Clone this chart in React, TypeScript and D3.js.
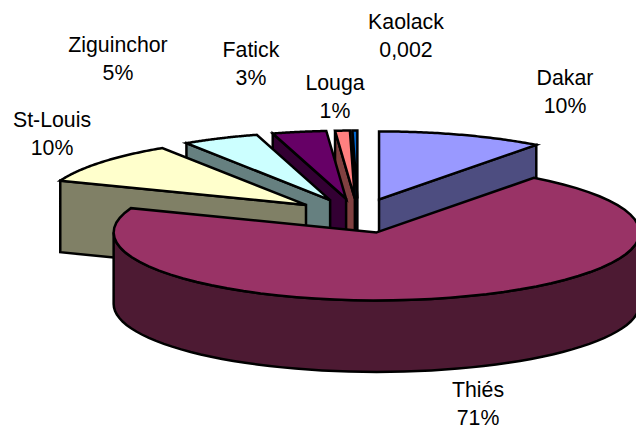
import React from "react";
import * as d3 from "d3";

const categories = ["Dakar", "Thiés", "St-Louis", "Ziguinchor", "Fatick", "Louga", "Kaolack"];
const shares = [10.2, 70.6, 10, 4.7, 3.3, 0.9, 0.3];
const shareLabels = ["10%", "71%", "10%", "5%", "3%", "1%", "0,002"];
const topColors = ["#9999ff", "#993366", "#ffffcc", "#ccffff", "#660066", "#ff8080", "#0066cc"];
const wallColors = ["#4d4d80", "#4d1a33", "#808066", "#668080", "#330033", "#804040", "#003366"];
const labelX = [565, 478, 52, 118, 251, 335, 406];
const labelY = [85, 397, 127, 52, 57, 90, 29];
const paintOrder = [0, 6, 5, 4, 3, 2, 1];

const width = 636,
	height = 432,
	cx = 358,
	cy = 215.8,
	rx = 263,
	ry = 68,
	explode = 0.254,
	depth = 71.5,
	lineGap = 28;

const px = d3.scaleLinear().domain([-1, 1]).range([cx - rx, cx + rx]);
const py = d3.scaleLinear().domain([-1, 1]).range([cy - ry, cy + ry]);

const pie = d3
	.pie<number>()
	.sort(null)
	.value((d) => d);

const line = d3.line();

const App = () => {
	const arcs = pie(shares);

	const slices = paintOrder.map((i) => {
		const a = arcs[i];
		const mid = (a.startAngle + a.endAngle) / 2;
		const ox = explode * Math.sin(mid);
		const oy = -explode * Math.cos(mid);
		const point = (t: number, r: number, drop = 0): [number, number] => [
			px(ox + r * Math.sin(t)),
			py(oy - r * Math.cos(t)) + drop,
		];
		const rim = (t0: number, t1: number, drop = 0) =>
			d3.range(0, 61).map((k) => point(t0 + ((t1 - t0) * k) / 60, 1, drop));

		const top = line([point(0, 0), ...rim(a.startAngle, a.endAngle)]) + "Z";

		// only the cut faces and rim that look towards the viewer
		const walls: string[] = [];
		const face = (t: number) =>
			line([point(t, 0), point(t, 1), point(t, 1, depth), point(t, 0, depth)]) + "Z";
		if (Math.sin(a.startAngle) < 0) walls.push(face(a.startAngle));
		if (Math.sin(a.endAngle) > 1e-6) walls.push(face(a.endAngle));
		const t0 = Math.max(a.startAngle, Math.PI / 2);
		const t1 = Math.min(a.endAngle, (3 * Math.PI) / 2);
		if (t1 > t0) walls.push(line([...rim(t0, t1), ...rim(t0, t1, depth).reverse()]) + "Z");

		return { i, top, walls };
	});

	return (
		<svg
			width={width}
			height={height}
			style={{ position: "absolute", left: 0, top: 0, background: "#fff" }}
		>
			{slices.map((s) => (
				<g key={categories[s.i]} stroke="#000" strokeWidth={2.5} strokeLinejoin="miter">
					{s.walls.map((d, k) => (
						<path key={k} d={d} fill={wallColors[s.i]} />
					))}
					<path d={s.top} fill={topColors[s.i]} />
				</g>
			))}
			{categories.map((c, i) => (
				<text
					key={c}
					textAnchor="middle"
					fontFamily="'Liberation Sans', Arial, sans-serif"
					fontSize={21.3}
					fill="#000"
				>
					<tspan x={labelX[i]} y={labelY[i]}>
						{c}
					</tspan>
					<tspan x={labelX[i]} y={labelY[i] + lineGap}>
						{shareLabels[i]}
					</tspan>
				</text>
			))}
		</svg>
	);
};

export default App;
